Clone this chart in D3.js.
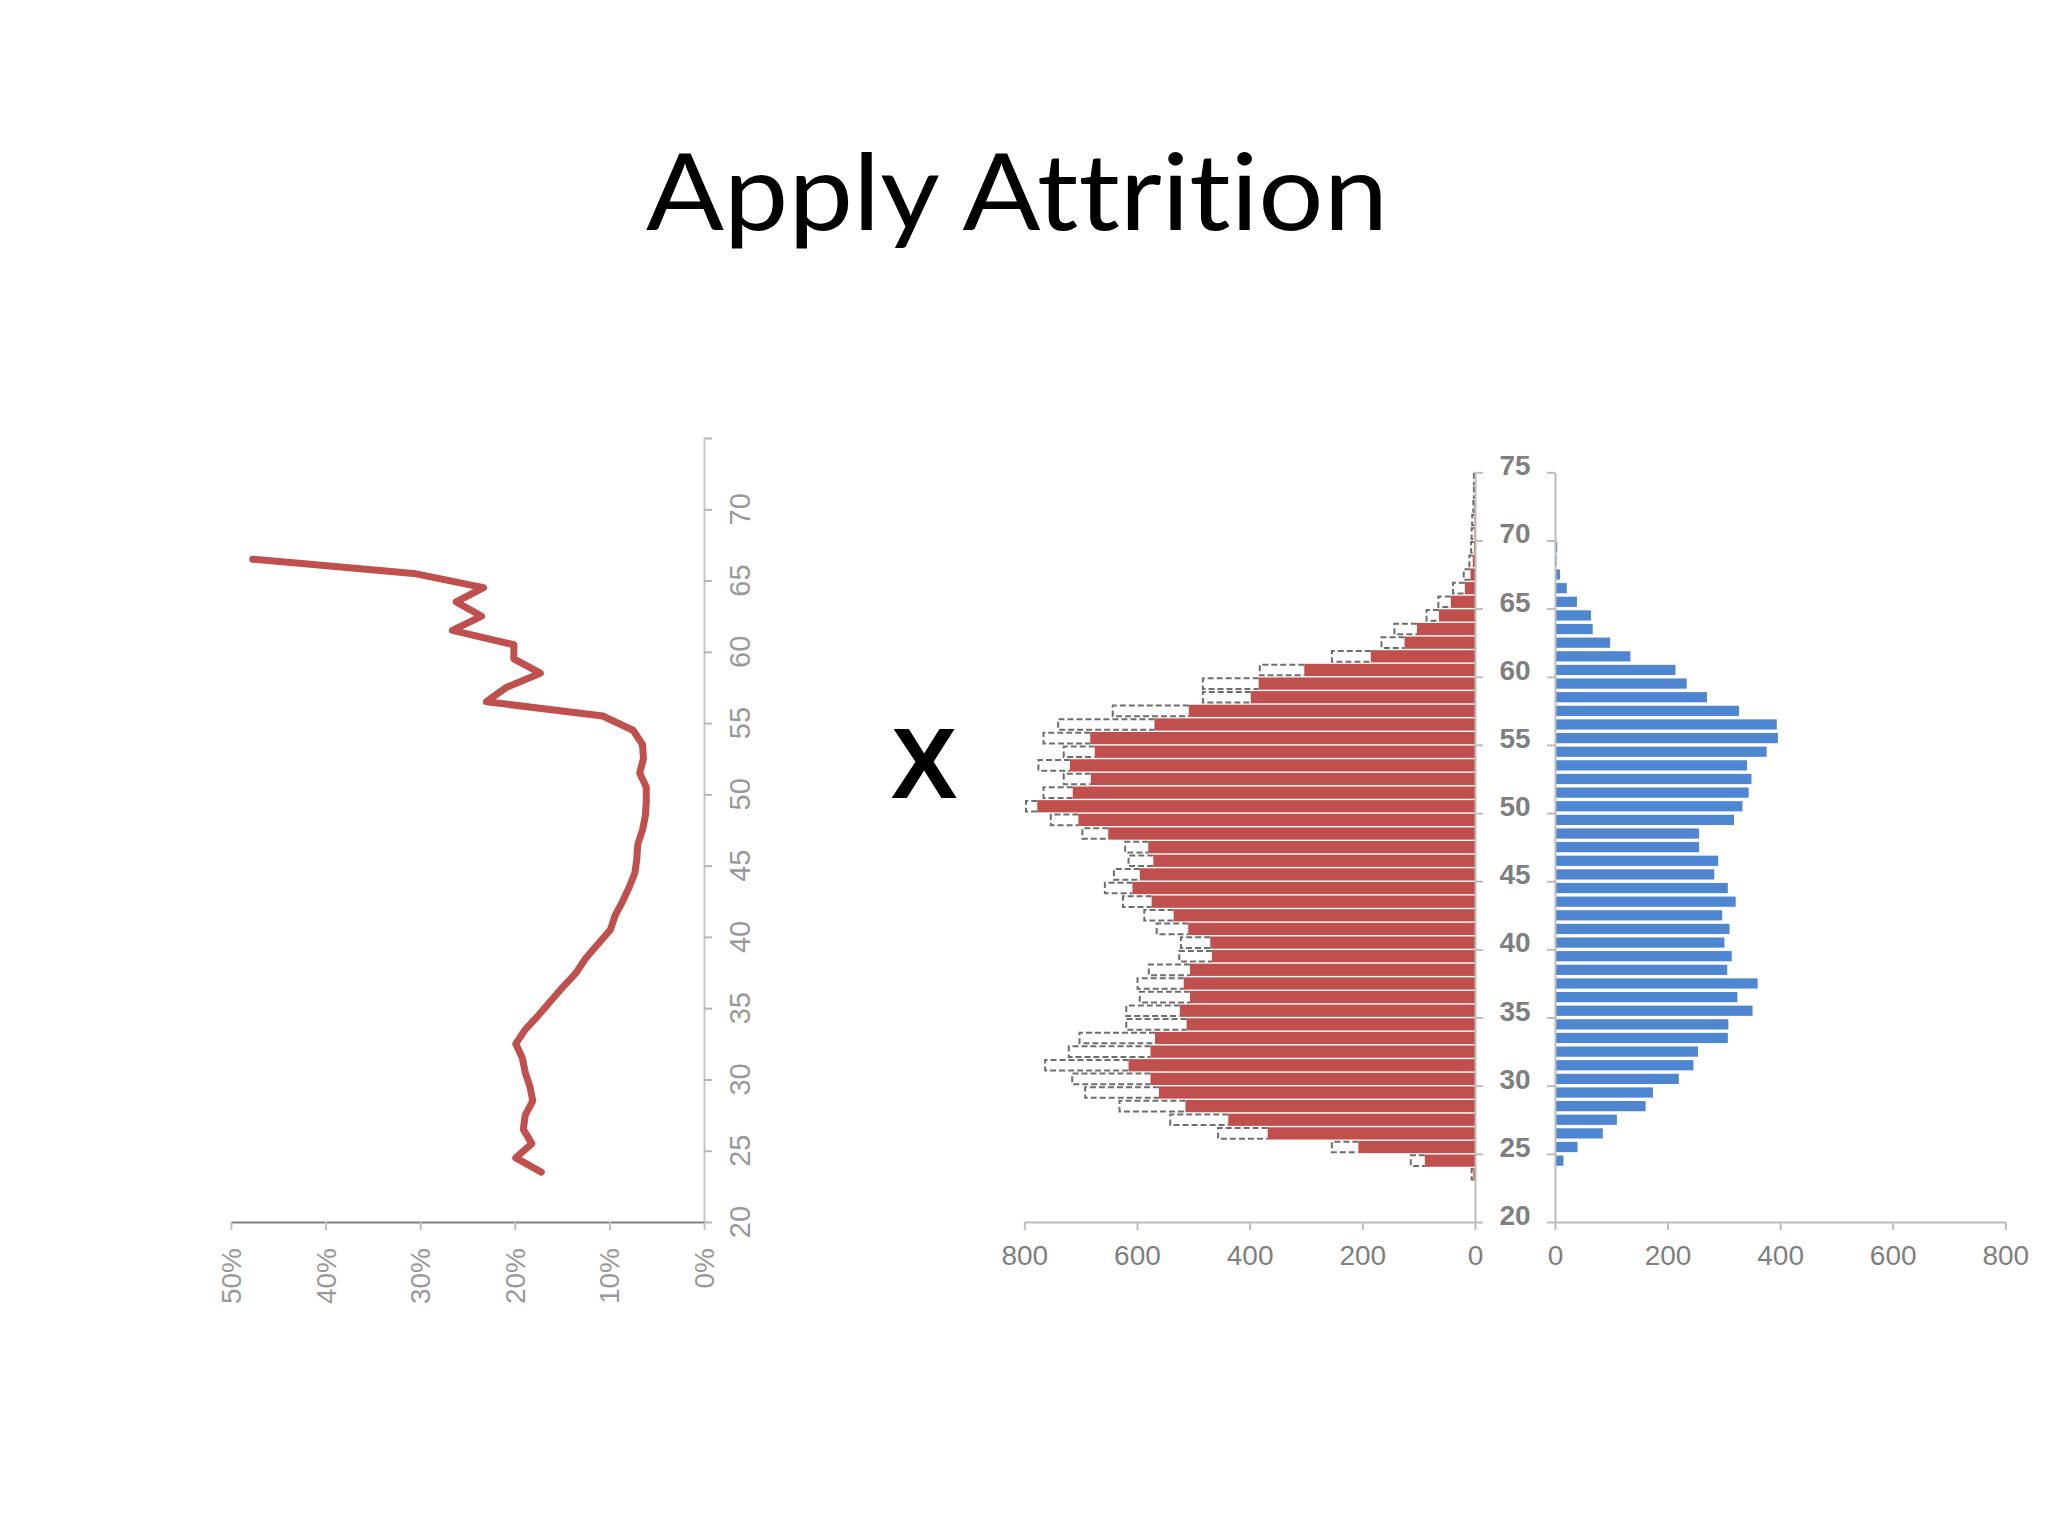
<!DOCTYPE html>
<html>
<head>
<meta charset="utf-8">
<script src="https://cdn.jsdelivr.net/npm/d3@7"></script>
<style>
  body { margin: 0; background: #fff; }
  svg { display: block; }
</style>
</head>
<body>
<div id="chart"></div>
<script>
// attrition rate by age (left chart), one point per year of age
const attrAges = [23, 24, 25, 26, 27, 28, 29, 30, 31, 32, 33, 34, 35, 36, 37, 38, 39, 40, 41, 42, 43, 44,
  45, 46, 47, 48, 49, 50, 51, 52, 53, 54, 55, 56, 57, 58, 59, 60, 61, 62, 63, 64, 65, 66];
const attrPct = [0.172, 0.199, 0.182, 0.191, 0.189, 0.181, 0.184, 0.189, 0.192, 0.199, 0.189, 0.175,
  0.162, 0.149, 0.135, 0.125, 0.112, 0.099, 0.094, 0.086, 0.079, 0.073, 0.071, 0.070, 0.065, 0.062,
  0.061, 0.061, 0.068, 0.064, 0.065, 0.075, 0.107, 0.230, 0.209, 0.173, 0.201, 0.201, 0.266, 0.235,
  0.262, 0.233, 0.307, 0.477];

// headcount pyramid (right chart)
const barAges = [23, 24, 25, 26, 27, 28, 29, 30, 31, 32, 33, 34, 35, 36, 37, 38, 39, 40, 41, 42, 43, 44,
  45, 46, 47, 48, 49, 50, 51, 52, 53, 54, 55, 56, 57, 58, 59, 60, 61, 62, 63, 64, 65, 66, 67, 68, 69,
  70, 71, 72, 73, 74];
// before attrition (dashed outline)
const beforeCount = [6, 114, 254, 456, 541, 631, 692, 715, 763, 721, 702, 619, 619, 595, 599, 579, 525,
  522, 565, 587, 625, 657, 641, 615, 621, 697, 753, 797, 766, 730, 775, 730, 766, 740, 643, 483, 483,
  382, 254, 166, 143, 86, 65, 39, 20, 10, 7, 6, 5, 3, 2, 2];
// after attrition (red)
const afterCount = [3, 89, 207, 368, 438, 514, 561, 576, 615, 576, 568, 512, 524, 506, 517, 506, 467,
  470, 509, 535, 574, 608, 595, 571, 580, 651, 704, 777, 714, 682, 719, 675, 683, 569, 508, 398, 384,
  303, 185, 125, 103, 64, 43, 18, 8, 4, 2, 1, 1, 0, 0, 0];
// blue side
const blueAges = [24, 25, 26, 27, 28, 29, 30, 31, 32, 33, 34, 35, 36, 37, 38, 39, 40, 41, 42, 43, 44,
  45, 46, 47, 48, 49, 50, 51, 52, 53, 54, 55, 56, 57, 58, 59, 60, 61, 62, 63, 64, 65, 66, 67, 68, 69];
const blueCount = [15, 40, 85, 110, 161, 174, 220, 246, 254, 307, 308, 351, 324, 360, 306, 314, 301,
  310, 297, 321, 307, 283, 290, 256, 256, 318, 333, 344, 349, 341, 376, 396, 394, 327, 270, 234, 214,
  134, 98, 67, 64, 39, 21, 9, 3, 4];

const ageTicks = [20, 25, 30, 35, 40, 45, 50, 55, 60, 65, 70, 75];
const pctTicks = [0, 0.1, 0.2, 0.3, 0.4, 0.5];
const countTicks = [0, 200, 400, 600, 800];

const RED = "#c0504d";
const BLUE = "#4e86d2";
const LABEL = "#7f7f7f";
const FONT = "'Liberation Sans', Arial, sans-serif";

const svg = d3.select("#chart").append("svg")
  .attr("width", 2048)
  .attr("height", 1536);

svg.append("rect").attr("width", 2048).attr("height", 1536).attr("fill", "#fff");

// title
svg.append("text")
  .attr("x", 1017)
  .attr("y", 230)
  .attr("text-anchor", "middle")
  .attr("font-family", "Lato, 'Open Sans', sans-serif")
  .attr("font-size", 107)
  .attr("textLength", 742)
  .attr("lengthAdjust", "spacingAndGlyphs")
  .style("font-variant-ligatures", "none")
  .style("font-feature-settings", "'liga' 0, 'dlig' 0")
  .attr("fill", "#000")
  .text("Apply Attrition");

// the big multiply sign
svg.append("text")
  .attr("x", 924)
  .attr("y", 798)
  .attr("text-anchor", "middle")
  .attr("font-family", FONT)
  .attr("font-weight", "bold")
  .attr("font-size", 100)
  .attr("fill", "#000")
  .text("X");

// ---------- left chart: attrition % (rotated) ----------
const xPct = d3.scaleLinear().domain([0, 0.5]).range([704, 231]);
const yL = d3.scaleLinear().domain([20, 75]).range([1222, 438]);

const gAgeL = svg.append("g")
  .attr("transform", "translate(704,0)")
  .call(d3.axisRight(yL).tickValues(ageTicks).tickSize(8).tickSizeOuter(0).tickFormat(""));
gAgeL.select(".domain").attr("stroke", "#c6c6c6").attr("stroke-width", 2);
gAgeL.selectAll(".tick line").attr("stroke", "#b5b5b5").attr("stroke-width", 2);

svg.append("g").selectAll("text")
  .data(ageTicks.filter(d => d < 75))
  .join("text")
  .attr("transform", d => "translate(750," + yL(d) + ") rotate(-90)")
  .attr("text-anchor", "middle")
  .attr("font-family", FONT)
  .attr("font-size", 29)
  .attr("fill", "#999")
  .text(d => d);

const gPct = svg.append("g")
  .attr("transform", "translate(0,1222)")
  .call(d3.axisBottom(xPct).tickValues(pctTicks).tickSize(8).tickSizeOuter(0).tickFormat(""));
gPct.select(".domain").attr("stroke", "#808080").attr("stroke-width", 2);
gPct.selectAll(".tick line").attr("stroke", "#c0c0c0").attr("stroke-width", 2);

svg.append("g").selectAll("text")
  .data(pctTicks)
  .join("text")
  .attr("transform", d => "translate(" + (xPct(d) + 10) + ",1248) rotate(-90)")
  .attr("text-anchor", "end")
  .attr("font-family", FONT)
  .attr("font-size", 28)
  .attr("fill", "#999")
  .text(d3.format(".0%"));

const attrData = attrAges.map((a, i) => ({ age: a, pct: attrPct[i] }));
svg.append("path")
  .datum(attrData)
  .attr("fill", "none")
  .attr("stroke", RED)
  .attr("stroke-width", 7)
  .attr("stroke-linejoin", "round")
  .attr("stroke-linecap", "round")
  .attr("d", d3.line().x(d => xPct(d.pct)).y(d => yL(d.age + 0.5)));

// ---------- right chart: population pyramid ----------
const yR = d3.scaleLinear().domain([20, 75]).range([1222, 472.3]);
const xLeft = d3.scaleLinear().domain([0, 800]).range([1475, 1024.3]);
const xRight = d3.scaleLinear().domain([0, 800]).range([1555, 2005.3]);
const band = yR(20) - yR(21);

const redData = barAges.map((a, i) => ({ age: a, before: beforeCount[i], after: afterCount[i] }));

// original counts: dashed outline of the part that the red bar does not cover
svg.append("g").selectAll("path")
  .data(redData)
  .join("path")
  .attr("fill", "none")
  .attr("stroke", "#6e6e6e")
  .attr("stroke-width", 2)
  .attr("stroke-dasharray", "6,3")
  .attr("d", d => {
    const y0 = yR(d.age + 1) + 1.5, y1 = yR(d.age) - 1.5;
    const xa = xLeft(d.after), xb = xLeft(d.before);
    return "M" + xa + "," + y0 + "H" + xb + "V" + y1 + "H" + xa + (d.after === 0 ? "Z" : "");
  });

// after attrition
svg.append("g").selectAll("rect")
  .data(redData.filter(d => d.after > 0))
  .join("rect")
  .attr("x", d => xLeft(d.after))
  .attr("y", d => yR(d.age + 1) + 0.7)
  .attr("width", d => xLeft(0) - xLeft(d.after))
  .attr("height", band - 1.4)
  .attr("fill", RED);

const blueData = blueAges.map((a, i) => ({ age: a, n: blueCount[i] }));
svg.append("g").selectAll("rect")
  .data(blueData)
  .join("rect")
  .attr("x", xRight(0) + 1)
  .attr("y", d => yR(d.age + 1) + 1.7)
  .attr("width", d => xRight(d.n) - xRight(0) - 1)
  .attr("height", band - 3.4)
  .attr("fill", BLUE);

function styleAxis(g) {
  g.select(".domain").attr("stroke", "#bcbcbc").attr("stroke-width", 2);
  g.selectAll(".tick line").attr("stroke", "#bcbcbc").attr("stroke-width", 2);
  g.selectAll(".tick text")
    .attr("font-family", FONT)
    .attr("font-size", 28)
    .attr("fill", LABEL)
    .attr("y", 23)
    .attr("dy", "0.71em");
}

const gLeftX = svg.append("g")
  .attr("transform", "translate(0,1222)")
  .call(d3.axisBottom(xLeft).tickValues(countTicks).tickSize(8).tickSizeOuter(0));
styleAxis(gLeftX);

const gRightX = svg.append("g")
  .attr("transform", "translate(0,1222)")
  .call(d3.axisBottom(xRight).tickValues(countTicks).tickSize(8).tickSizeOuter(0));
styleAxis(gRightX);

const gLeftY = svg.append("g")
  .attr("transform", "translate(1475,0)")
  .call(d3.axisRight(yR).tickValues(ageTicks).tickSize(8).tickSizeOuter(0).tickFormat(""));
styleAxis(gLeftY);

const gRightY = svg.append("g")
  .attr("transform", "translate(1555,0)")
  .call(d3.axisLeft(yR).tickValues(ageTicks).tickSize(8).tickSizeOuter(0).tickFormat(""));
styleAxis(gRightY);

// age labels sit between the two halves
svg.append("g").selectAll("text")
  .data(ageTicks)
  .join("text")
  .attr("x", 1515)
  .attr("y", d => yR(d) + 3)
  .attr("text-anchor", "middle")
  .attr("font-family", FONT)
  .attr("font-weight", "bold")
  .attr("font-size", 28)
  .attr("fill", LABEL)
  .text(d => d);
</script>
</body>
</html>
